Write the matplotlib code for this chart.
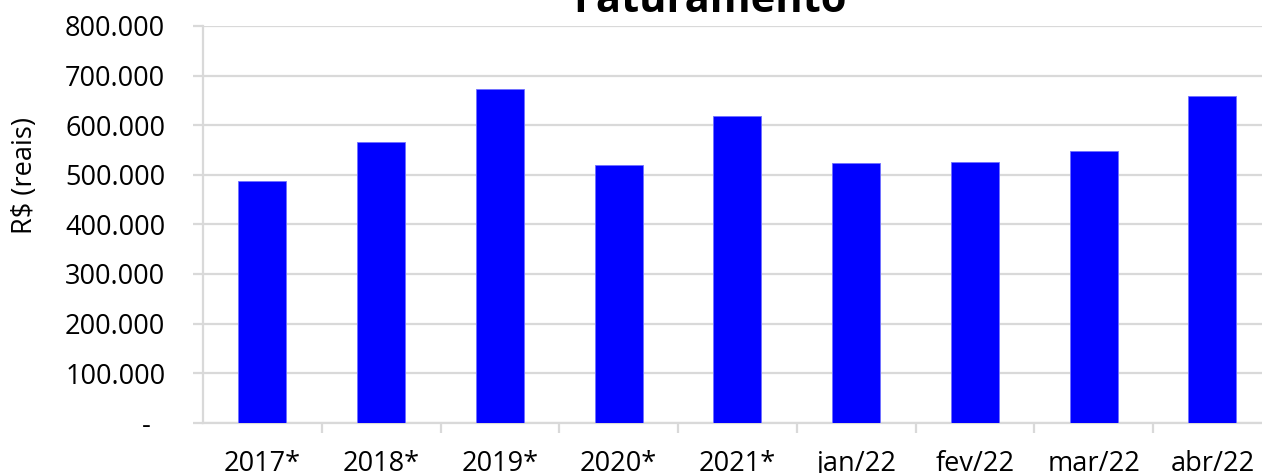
import matplotlib
matplotlib.use("Agg")
import matplotlib.pyplot as plt
from matplotlib.ticker import FuncFormatter, FixedLocator

categorias = ["2017*", "2018*", "2019*", "2020*", "2021*", "jan/22", "fev/22", "mar/22", "abr/22"]
faturamento = [487000, 566000, 673000, 519500, 619000, 523600, 525000, 547000, 658000]
y_ticks = [0, 100000, 200000, 300000, 400000, 500000, 600000, 700000, 800000]

plt.rcParams['font.family'] = ['Open Sans', 'DejaVu Sans']

W, H = 1262, 473
fig = plt.figure(figsize=(W / 100, H / 100), dpi=100)
ax = fig.add_axes([203 / W, 1 - 422.7 / H, 1068.75 / W, 396.7 / H])

x = list(range(len(categorias)))
ax.bar(x, faturamento, width=0.405, color="#0000ff", edgecolor="#7070ff", linewidth=0.6, zorder=3)

ax.set_xlim(-0.5, len(categorias) - 0.5)
ax.set_ylim(0, 800000)


def fmt(v, pos):
    # zero shown as a dash, like accounting format
    if v == 0:
        return "-  "
    return f"{int(v):,}".replace(",", ".")


ax.yaxis.set_major_locator(FixedLocator(y_ticks))
ax.yaxis.set_major_formatter(FuncFormatter(fmt))
ax.grid(axis="y", color="#d9d9d9", linewidth=1.6, zorder=0)

ax.set_xticks(x)
ax.set_xticklabels(categorias)
ax.set_xticks([i + 0.5 for i in x[:-1]], minor=True)

ax.tick_params(axis="y", length=7.2, width=1.6, color="#d9d9d9", pad=20, labelsize=19.5)
ax.tick_params(axis="x", which="major", length=0, pad=20, labelsize=19.5)
ax.tick_params(axis="x", which="minor", length=7.2, width=1.6, color="#d9d9d9")

for side in ("top", "right"):
    ax.spines[side].set_visible(False)
for side in ("left", "bottom"):
    ax.spines[side].set_color("#d9d9d9")
    ax.spines[side].set_linewidth(1.6)

fig.text(710 / W, 1 - 12 / H, "Faturamento", ha="center", va="baseline",
         fontsize=30, fontweight="bold")
fig.text(25 / W, 1 - 175 / H, "R$ (reais)", rotation=90, ha="center", va="center",
         fontsize=19.5)

fig.savefig("out.png", dpi=100)
